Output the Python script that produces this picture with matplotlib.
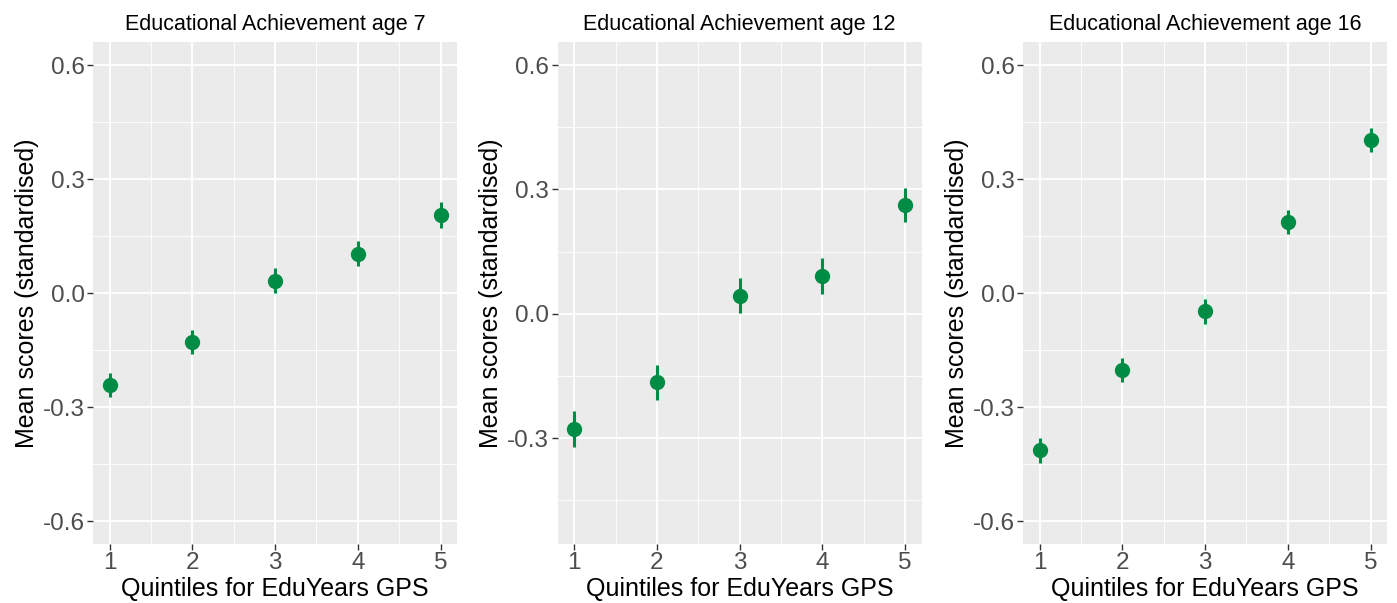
import matplotlib.pyplot as plt
from matplotlib.ticker import MultipleLocator

plt.rcParams['font.family'] = ['Liberation Sans', 'DejaVu Sans']

# quintiles of the EduYears polygenic score
quintiles = [1, 2, 3, 4, 5]

titles = ["Educational Achievement age 7",
          "Educational Achievement age 12",
          "Educational Achievement age 16"]

# mean standardised scores and half-width of the error bars
means_age7 = [-0.242, -0.129, 0.033, 0.104, 0.205]
err_age7 = [0.032, 0.032, 0.034, 0.033, 0.034]

means_age12 = [-0.278, -0.165, 0.044, 0.091, 0.263]
err_age12 = [0.043, 0.042, 0.043, 0.043, 0.041]

means_age16 = [-0.414, -0.203, -0.048, 0.187, 0.403]
err_age16 = [0.033, 0.032, 0.033, 0.032, 0.032]

# y-axis limits of each panel (before ggplot-like expansion)
ylims = [(-0.6, 0.6), (-0.5, 0.6), (-0.6, 0.6)]
yticks = [[-0.6, -0.3, 0.0, 0.3, 0.6],
          [-0.3, 0.0, 0.3, 0.6],
          [-0.6, -0.3, 0.0, 0.3, 0.6]]

GREEN = '#008C45'
PANEL_BG = '#EBEBEB'
TEXT_GREY = '#4D4D4D'

fig = plt.figure(figsize=(13.97, 6.03), dpi=100)

lefts = [0.0666, 0.3992, 0.7323]
width = 0.2606
bottom = 0.098
height = 0.832

series = [(means_age7, err_age7), (means_age12, err_age12), (means_age16, err_age16)]

for i, (means, errs) in enumerate(series):
    ax = fig.add_axes([lefts[i], bottom, width, height])
    ax.set_facecolor(PANEL_BG)
    for s in ax.spines.values():
        s.set_visible(False)

    lo, hi = ylims[i]
    pad = (hi - lo) * 0.05
    ax.set_ylim(lo - pad, hi + pad)
    ax.set_xlim(0.8, 5.2)

    ax.set_xticks(quintiles)
    ax.set_yticks(yticks[i])
    ax.set_yticklabels([f"{t:.1f}" for t in yticks[i]])
    ax.xaxis.set_minor_locator(MultipleLocator(0.5))
    ax.yaxis.set_minor_locator(MultipleLocator(0.15))

    ax.grid(which='major', color='white', linewidth=1.3)
    ax.grid(which='minor', color='white', linewidth=0.7, alpha=0.9)
    ax.set_axisbelow(True)

    ax.tick_params(which='major', length=4, width=1, color='#333333',
                   labelsize=17.5, labelcolor=TEXT_GREY, pad=2)
    ax.tick_params(which='minor', length=0)

    ax.errorbar(quintiles, means, yerr=errs, fmt='o', color=GREEN,
                markersize=10, elinewidth=2.2, capsize=0, zorder=3)

    ax.set_title(titles[i], fontsize=15.5, color='black', pad=9)
    ax.set_xlabel("Quintiles for EduYears GPS", fontsize=18, labelpad=2)
    ax.set_ylabel("Mean scores (standardised)", fontsize=18, labelpad=3)

fig.savefig('out.png', dpi=100, facecolor='white')
